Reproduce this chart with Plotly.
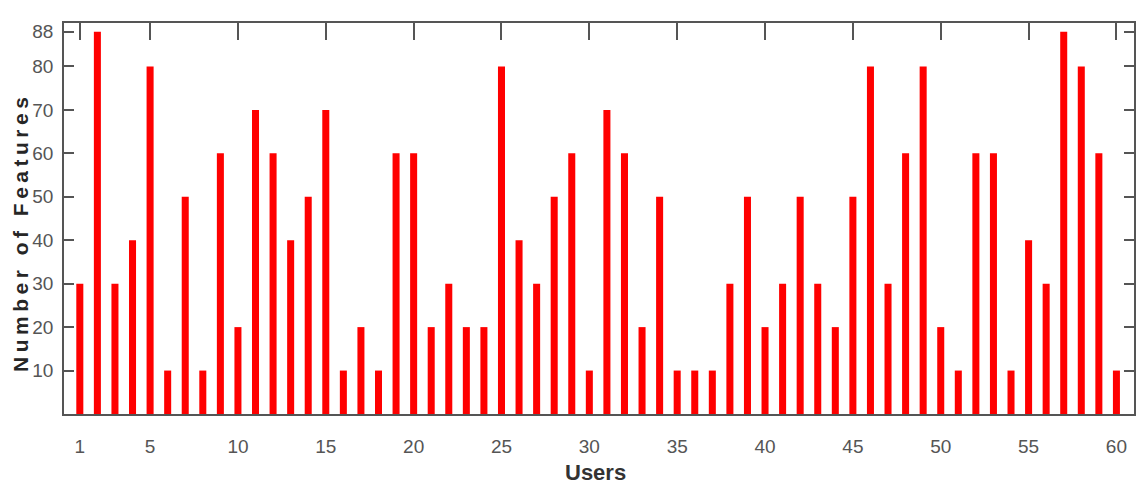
import plotly.graph_objects as go

users = list(range(1, 61))
features = [30, 88, 30, 40, 80, 10, 50, 10, 60, 20,
            70, 60, 40, 50, 70, 10, 20, 10, 60, 60,
            20, 30, 20, 20, 80, 40, 30, 50, 60, 10,
            70, 60, 20, 50, 10, 10, 10, 30, 50, 20,
            30, 50, 30, 20, 50, 80, 30, 60, 80, 20,
            10, 60, 60, 10, 40, 30, 88, 80, 60, 10]
x_ticks = [1, 5, 10, 15, 20, 25, 30, 35, 40, 45, 50, 55, 60]
y_ticks = [10, 20, 30, 40, 50, 60, 70, 80, 88]

fig = go.Figure(go.Bar(x=users, y=features, width=0.4,
                       marker=dict(color="#ff0000", line=dict(width=0))))

tick_font = dict(family="Liberation Sans Narrow, Arial Narrow, Liberation Sans, sans-serif",
                 size=19, color="#555555")

fig.update_layout(
    width=1139, height=478,
    margin=dict(l=56, r=11, t=15, b=72),
    paper_bgcolor="white", plot_bgcolor="white",
    showlegend=False,
    xaxis=dict(range=[0.1, 61], tickvals=x_ticks, ticktext=[str(v) for v in x_ticks],
               ticks="inside", ticklen=17, tickwidth=1.5, tickcolor="#555555",
               showline=True, linecolor="#555555", linewidth=1.5, mirror="ticks",
               showgrid=False, zeroline=False, layer="below traces",
               tickfont=tick_font, ticklabelstandoff=14),
    yaxis=dict(range=[0, 90], tickvals=y_ticks, ticktext=[str(v) for v in y_ticks],
               ticks="inside", ticklen=10, tickwidth=1.5, tickcolor="#555555",
               showline=True, linecolor="#555555", linewidth=1.5, mirror="ticks",
               showgrid=False, zeroline=False, layer="below traces",
               tickfont=tick_font, ticklabelstandoff=5),
    annotations=[
        dict(text="<span style='letter-spacing:4.5px'>Number of Features</span>",
             xref="paper", yref="paper", x=0, xshift=-43, y=0.463,
             xanchor="center", yanchor="middle", textangle=-90, showarrow=False,
             font=dict(family="Liberation Sans, Arial, sans-serif", size=21, color="#262626",
                       weight="bold")),
        dict(text="Users", xref="paper", yref="paper", x=0.497, y=-0.15,
             xanchor="center", yanchor="middle", showarrow=False,
             font=dict(family="Liberation Sans Narrow, Arial Narrow, Liberation Sans, sans-serif",
                       size=22, color="#333333", weight="bold")),
    ],
)

fig.write_html("out.html")
